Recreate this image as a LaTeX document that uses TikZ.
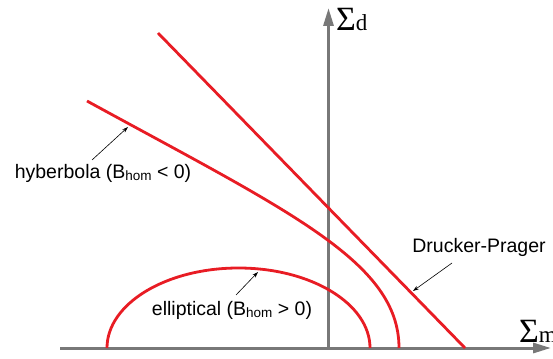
\documentclass[tikz,border=0pt]{standalone}
\usepackage{fontspec}
\setmainfont{Liberation Sans}
\newfontfamily\serifsym{Liberation Serif}
\usetikzlibrary{arrows.meta}
\definecolor{axisgray}{RGB}{120,120,120}
\definecolor{curvered}{RGB}{232,28,36}
\tikzset{
  axisline/.style={draw=axisgray,line width=3pt,-{Triangle[length=18pt,width=10pt]}},
  curveline/.style={draw=curvered,line width=2.8pt},
  pointer/.style={draw=black,line width=0.6pt,-{Stealth[length=6pt,width=4pt]}},
  lbl/.style={inner sep=0pt,font=\fontsize{19.5}{22}\selectfont},
}
\newcommand{\hsub}{\raisebox{-2.5pt}{\fontsize{13.5}{14}\selectfont hom}}
\begin{document}
\begin{tikzpicture}[x=1pt,y=-1pt]
\useasboundingbox (0,0) rectangle (553,358);
% axes
\coordinate (o) at (328.5,348);
\coordinate (xe) at (551,348);
\coordinate (ye) at (328.5,8);
\coordinate (xs) at (60,348);
\draw[axisline] (xs) -- (xe);
\draw[axisline] (o) -- (ye);
\node[inner sep=0pt,anchor=west] (sd) at (336,19) {\serifsym\fontsize{34}{34}\selectfont Σ\fontsize{23}{23}\selectfont d};
\node[inner sep=0pt,anchor=west] (sm) at (519,331) {\serifsym\fontsize{34}{34}\selectfont Σ\fontsize{23}{23}\selectfont m};
% curves
\coordinate (dpA) at (158,33);
\coordinate (dpB) at (465,348);
\draw[curveline] (dpA) -- (dpB);
\coordinate (hyA) at (87,101);
\coordinate (hyB) at (399,348);
\draw[curveline] (hyA) .. controls (290,212) and (399,262) .. (hyB);
\coordinate (elC) at (238.5,348);
\draw[curveline] (107,348) arc[start angle=180,end angle=0,x radius=131.5,y radius=-80];
% labels
\node[lbl] (hyl) at (103,173) {hyberbola (B\hsub{} < 0)};
\node[lbl] (ell) at (232,310) {elliptical (B\hsub{} > 0)};
\node[lbl] (dpl) at (479,247) {Drucker-Prager};
\coordinate (hyt) at (128,127);
\coordinate (elt) at (258,272);
\coordinate (dpt) at (413,291);
\draw[pointer] (92,160) -- (hyt);
\draw[pointer] (236,295) -- (elt);
\draw[pointer] (452,263) -- (dpt);
\end{tikzpicture}
\end{document}
